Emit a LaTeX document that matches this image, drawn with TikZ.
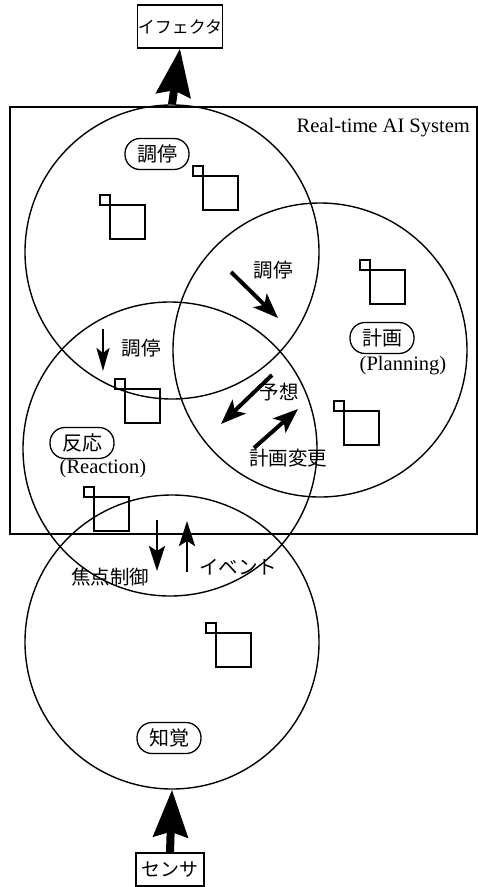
\documentclass[tikz,border=0pt]{standalone}
\usepackage{fontspec}
\setmainfont{Liberation Serif}
\newfontfamily\jp{Noto Sans CJK JP}
\usetikzlibrary{arrows.meta}

\begin{document}
\begin{tikzpicture}[x=1pt,y=-1pt,
  every node/.style={inner sep=0pt},
  ring/.style={circle, draw, line width=1.4pt, minimum size=294pt},
  tag/.style={draw, line width=1.3pt, rounded corners=15pt,
    minimum width=64pt, minimum height=31pt, font=\jp\fontsize{20}{20}\selectfont},
  jtext/.style={font=\jp\fontsize{19.5}{19.5}\selectfont},
  ltext/.style={font=\fontsize{20.5}{21}\selectfont},
  iobox/.style={draw, line width=1.3pt, font=\jp\fontsize{17}{17}\selectfont},
  bigarrow/.style={line width=8pt, -{Stealth[length=47pt,width=34pt,inset=5pt]}},
  flow/.style={line width=4pt, -{Stealth[length=25pt,width=19pt,inset=6pt]}},
  vflow/.style={line width=2.5pt, -{Stealth[length=23pt,width=13pt,inset=5pt]}},
  vflowb/.style={line width=2.8pt, -{Stealth[length=25pt,width=16pt,inset=5pt]}},
  sq/.style={line width=1.3pt}
]
\useasboundingbox (0,0) rectangle (478,887);

% outer system frame
\draw[line width=1.5pt] (10,107) rectangle (477,534);
\node[ltext, anchor=east] (sys) at (470,128) {Real-time AI System};

% the four subsystems
\node[ring] (med)   at (172,252) {};
\node[ring] (plan)  at (320,350) {};
\node[ring] (react) at (170,449) {};
\node[ring] (perc)  at (172,642) {};

% effector and sensor
\node[iobox, minimum width=84pt, minimum height=43pt] (eff) at (180,26.5) {イフェクタ};
\node[iobox, minimum width=68pt, minimum height=33pt, font=\jp\fontsize{19}{19}\selectfont] (sens) at (170,869.5) {センサ};
\draw[bigarrow] (med.north) -- (eff.south);
\draw[bigarrow] (sens.north) -- (perc.south);

% knowledge units: small square hooked onto a larger one
\newcommand\unitpair[2]{%
  \draw[sq] (#1-10,#2-10) rectangle (#1,#2);
  \draw[sq] (#1,#2) rectangle (#1+35,#2+34);}
\unitpair{203}{176}
\unitpair{110}{205}
\unitpair{370}{270}
\unitpair{344}{411}
\unitpair{125}{389}
\unitpair{94}{497}
\unitpair{216}{633}

% subsystem labels
\node[tag] (tmed) at (157,154) {調停};
\node[tag] (tplan) at (382,338) {計画};
\node[ltext] (lplan) at (403,366) {(Planning)};
\node[tag] (treact) at (82,443) {反応};
\node[ltext] (lreact) at (103,469) {(Reaction)};
\node[tag] (tperc) at (169,738) {知覚};

% mediation to planning
\node[jtext] (m1) at (273,270) {調停};
\coordinate (a1s) at (231,272); \coordinate (a1e) at (278,318);
\draw[flow] (a1s) -- (a1e);

% planning <-> reaction
\node[jtext] (exp) at (279,392) {予想};
\coordinate (a2s) at (272,375); \coordinate (a2e) at (221,424);
\draw[flow] (a2s) -- (a2e);
\node[jtext] (chg) at (288,458) {計画変更};
\coordinate (a3s) at (254,448); \coordinate (a3e) at (298,409);
\draw[flow] (a3s) -- (a3e);

% mediation to reaction
\node[jtext] (m2) at (141,348) {調停};
\coordinate (a4s) at (103,329); \coordinate (a4e) at (103,371);
\draw[vflow] (a4s) -- (a4e);

% reaction <-> perception
\coordinate (a5s) at (157,520); \coordinate (a5e) at (157,571);
\draw[vflowb] (a5s) -- (a5e);
\coordinate (a6s) at (187,572); \coordinate (a6e) at (187,521);
\draw[vflowb] (a6s) -- (a6e);
\node[jtext] (foc) at (110,577) {焦点制御};
\node[jtext] (evt) at (238,567) {イベント};
\end{tikzpicture}
\end{document}
